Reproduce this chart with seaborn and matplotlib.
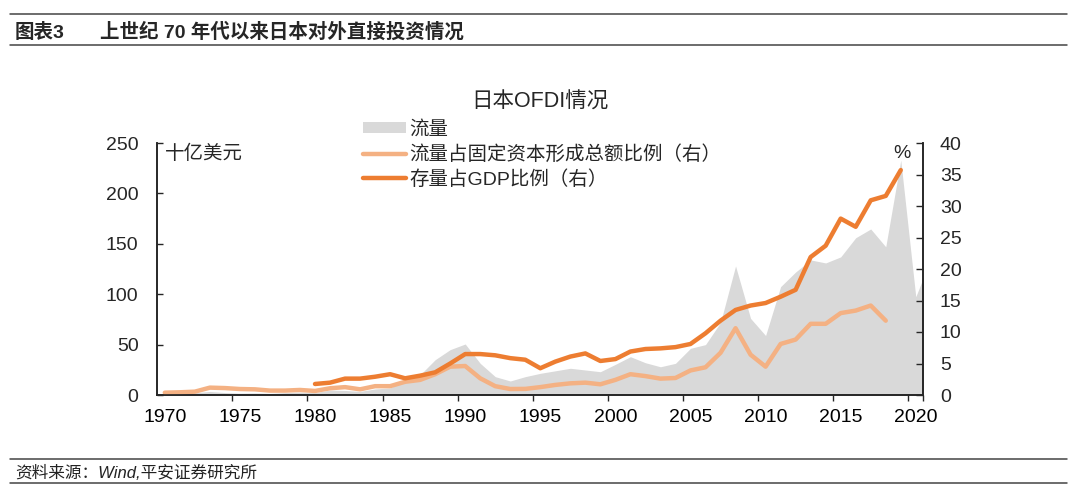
import numpy as np
import pandas as pd
import matplotlib
matplotlib.use("Agg")
import matplotlib.pyplot as plt
import seaborn as sns
from matplotlib.lines import Line2D
from matplotlib.patches import Patch
from matplotlib.ticker import FixedLocator

# ---------------- data ----------------
flow_years = list(range(1970, 2022))
flow_bn = [0.4, 0.9, 2.3, 3.5, 2.4, 1.8, 2.0, 1.6, 2.4, 2.9,
           2.4, 4.9, 4.5, 3.6, 6.0, 7.0, 14.0, 20.0, 35.0, 45.0,
           50.6, 31.4, 18.2, 13.9, 18.2, 21.5, 24.0, 26.5, 24.8, 23.1,
           30.4, 38.0, 32.0, 28.0, 31.4, 46.3, 50.0, 72.0, 128.0, 76.0,
           59.0, 107.5, 122.0, 134.0, 131.0, 137.0, 156.0, 164.7, 147.0, 233.0,
           97.5, 135.0]

ratio_years = list(range(1970, 2019))
flow_gfcf_pct = [0.37, 0.43, 0.53, 1.17, 1.1, 0.95, 0.9, 0.7, 0.7, 0.8,
                 0.64, 1.07, 1.25, 0.9, 1.4, 1.4, 2.1, 2.4, 3.3, 4.5,
                 4.6, 2.65, 1.4, 0.95, 0.97, 1.25, 1.6, 1.85, 1.96, 1.7,
                 2.4, 3.3, 3.0, 2.6, 2.7, 3.9, 4.4, 6.7, 10.6, 6.4,
                 4.5, 8.1, 8.8, 11.3, 11.3, 13.0, 13.4, 14.2, 11.8]

stock_years = list(range(1980, 2020))
stock_gdp_pct = [1.75, 1.96, 2.6, 2.6, 2.9, 3.3, 2.65, 3.07, 3.6, 5.0,
                 6.5, 6.5, 6.3, 5.85, 5.6, 4.25, 5.3, 6.1, 6.6, 5.4,
                 5.7, 6.9, 7.3, 7.4, 7.6, 8.1, 9.8, 11.8, 13.5, 14.2,
                 14.6, 15.6, 16.7, 21.9, 23.7, 28.0, 26.7, 30.9, 31.6, 35.7]

xtick_years = list(range(1970, 2021, 5))
left_ticks = [0, 50, 100, 150, 200, 250]
right_ticks = [0, 5, 10, 15, 20, 25, 30, 35, 40]

labels = ["流量", "流量占固定资本形成总额比例（右）", "存量占GDP比例（右）"]

df_flow = pd.DataFrame({"year": flow_years, "flow": flow_bn})
df_ratio = pd.DataFrame({"year": ratio_years, "pct": flow_gfcf_pct})
df_stock = pd.DataFrame({"year": stock_years, "pct": stock_gdp_pct})

# ---------------- style ----------------
sns.set_style("white")
plt.rcParams["font.family"] = ["Liberation Sans", "Noto Sans CJK SC"]
plt.rcParams["axes.unicode_minus"] = False

W, H = 1080, 495
fig = plt.figure(figsize=(W / 100, H / 100), dpi=100)
ax = fig.add_axes([157.3 / W, 100 / H, 766 / W, 252 / H])

c_area = "#D9D9D9"
c_light = "#F4B183"
c_dark = "#ED7D31"
c_axis = "#262626"

ax.fill_between(df_flow["year"], df_flow["flow"], 0, color=c_area, lw=0, zorder=1)

ax2 = ax.twinx()
sns.lineplot(data=df_ratio, x="year", y="pct", ax=ax2, color=c_light, lw=3.2,
             legend=False, solid_joinstyle="round", solid_capstyle="round")
sns.lineplot(data=df_stock, x="year", y="pct", ax=ax2, color=c_dark, lw=3.2,
             legend=False, solid_joinstyle="round", solid_capstyle="round")

ax.set_xlim(1969.5, 2020.5)
ax.set_ylim(0, 250)
ax2.set_ylim(0, 40)
for a in (ax, ax2):
    a.set_xlabel("")
    a.set_ylabel("")
    a.grid(False)
    a.spines["top"].set_visible(False)
    for s in ("left", "right", "bottom"):
        a.spines[s].set_color(c_axis)
        a.spines[s].set_linewidth(1.2)

ax.set_xticks(xtick_years)
ax.set_xticklabels([str(y) for y in xtick_years])
ax.xaxis.set_minor_locator(FixedLocator([y - 0.5 for y in xtick_years[1:]] + [2020.5]))
ax.tick_params(axis="x", which="major", length=0, labelsize=14, pad=10, colors="#000000")
ax.tick_params(axis="x", which="minor", length=4, width=1.0, direction="out", color=c_axis, bottom=True)

ax.set_yticks(left_ticks)
ax.set_yticklabels([str(v) for v in left_ticks])
ax.tick_params(axis="y", direction="in", length=4.3, width=1.0, color=c_axis,
               labelsize=14, pad=13.5, left=True, right=False)
ax2.set_yticks(right_ticks)
ax2.set_yticklabels([str(v) for v in right_ticks])
ax2.tick_params(axis="y", direction="in", length=4.8, width=1.0, color=c_axis,
                labelsize=14, pad=12, right=True, left=False)

# legend
handles = [Patch(facecolor=c_area, edgecolor="none"),
           Line2D([], [], color=c_light, lw=3.2),
           Line2D([], [], color=c_dark, lw=3.2)]
fig.legend(handles, labels, loc="upper left", bbox_to_anchor=(363 / W, 1 - 121 / H),
           frameon=False, fontsize=14, handlelength=2.2, handleheight=0.5,
           handletextpad=0.2, labelspacing=0.32, borderpad=0, borderaxespad=0)

# texts
fig.text(540 / W, 1 - 102 / H, "日本OFDI情况", ha="center", va="center", fontsize=15.5)
fig.text(165 / W, 1 - 154 / H, "十亿美元", ha="left", va="center", fontsize=14)
fig.text(902 / W, 1 - 153 / H, "%", ha="center", va="center", fontsize=14)

fig.text(15 / W, 1 - 32 / H, "图表3", ha="left", va="center", fontsize=14, fontweight="bold")
fig.text(100 / W, 1 - 32 / H, "上世纪 70 年代以来日本对外直接投资情况", ha="left", va="center",
         fontsize=14, fontweight="bold")
fig.text(15 / W, 1 - 473 / H, "资料来源：Wind,平安证券研究所", ha="left", va="center",
         fontsize=12, style="italic", color="#222222")

for yy in (14, 45, 459, 483):
    fig.add_artist(Line2D([10 / W, 1067 / W], [1 - yy / H, 1 - yy / H],
                          color="#444444", lw=1.1))

fig.savefig("out.png", dpi=100)
